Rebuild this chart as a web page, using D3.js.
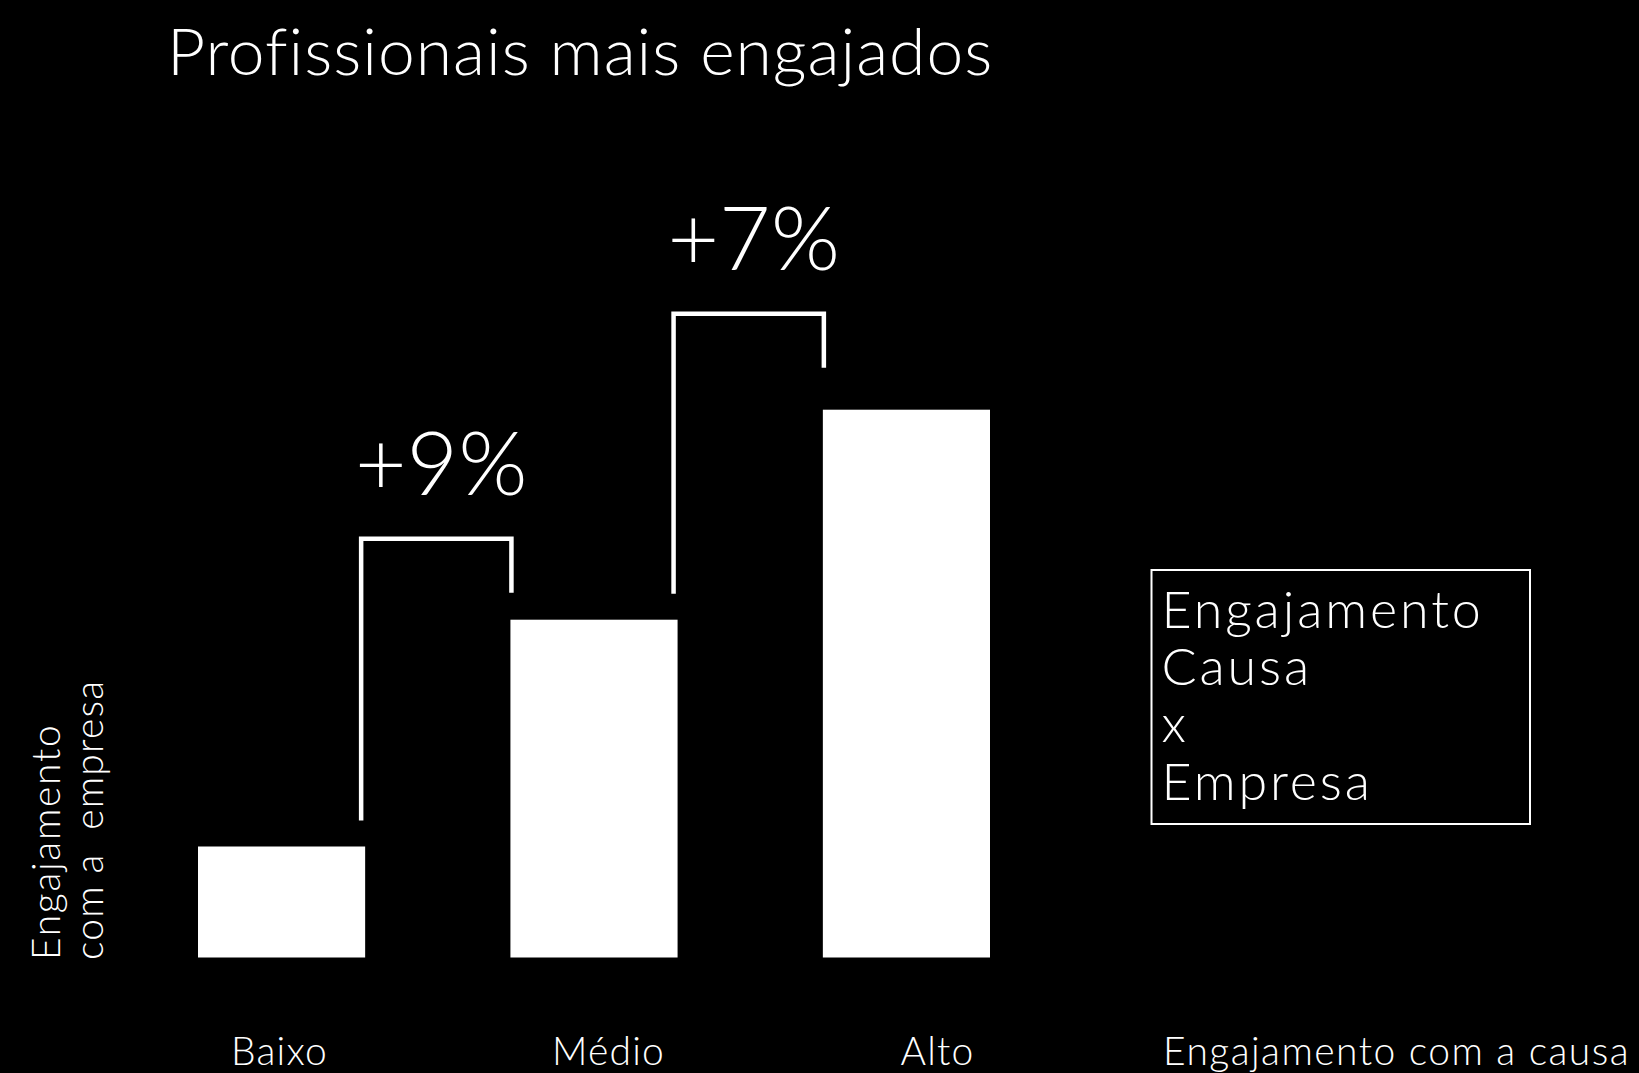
<!DOCTYPE html>
<html>
<head>
<meta charset="utf-8">
<script src="https://cdn.jsdelivr.net/npm/d3@7"></script>
<style>
  html, body { margin: 0; padding: 0; background: #000; }
  svg { display: block; }
  text { font-family: Lato, "Open Sans", sans-serif; font-weight: 300; fill: #fff; font-variant-ligatures: none; }
</style>
</head>
<body>
<svg id="chart" width="1639" height="1073"></svg>
<script>
// Chart content
const chartTitle = "Profissionais mais engajados";
const categories = ["Baixo", "Médio", "Alto"];
const values = [18.5, 56.3, 91.3];           // engagement with the company (relative)
const increaseLabels = ["+9%", "+7%"];       // step between neighbouring groups
const xAxisTitle = "Engajamento com a causa";
const yAxisTitle = ["Engajamento", "com a\u00a0 empresa"];
const legendLines = ["Engajamento", "Causa", "x", "Empresa"];

const W = 1639, H = 1073;
const svg = d3.select("#chart");
svg.append("rect").attr("width", W).attr("height", H).attr("fill", "#000");

// Scales
const x = d3.scaleBand().domain(categories).range([198, 990]).paddingInner(0.465).paddingOuter(0);
const y = d3.scaleLinear().domain([0, 100]).range([957.5, 357.5]);
const xLabel = d3.scalePoint().domain(categories).range([279, 937]);

// Title
svg.append("text")
  .attr("x", 167).attr("y", 75)
  .attr("font-size", 66)
  .attr("letter-spacing", 0.98)
  .text(chartTitle);

// Bars
svg.append("g").selectAll("rect")
  .data(categories.map((c, i) => ({ c, v: values[i] })))
  .join("rect")
  .attr("x", d => x(d.c))
  .attr("y", d => y(d.v))
  .attr("width", x.bandwidth())
  .attr("height", d => y(0) - y(d.v))
  .attr("fill", "#fff");

// Brackets showing the increase between neighbouring bars
const bracketRise = [81, 96];
const rightLeg = 54;
const brackets = svg.append("g");
increaseLabels.forEach((lab, i) => {
  const c0 = categories[i], c1 = categories[i + 1];
  const xl = x(c0) + x.bandwidth() - 4;
  const xr = x(c1) + 1;
  const top = y(values[i + 1]) - bracketRise[i];
  const leftBottom = y(values[i]) - 26;
  const rightBottom = top + rightLeg;
  brackets.append("path")
    .attr("d", d3.line()([[xl, leftBottom], [xl, top], [xr, top], [xr, rightBottom]]))
    .attr("fill", "none")
    .attr("stroke", "#fff")
    .attr("stroke-width", 4.5)
    .attr("stroke-linejoin", "miter");
  brackets.append("text")
    .attr("x", (xl + xr) / 2 + 5)
    .attr("y", top - 44)
    .attr("text-anchor", "middle")
    .attr("font-size", 89)
    .text(lab);
});

// Category labels
const xAxis = d3.axisBottom(xLabel).tickSize(0).tickPadding(0);
const gx = svg.append("g").attr("transform", "translate(0,1065)").call(xAxis);
gx.select(".domain").remove();
gx.selectAll("text")
  .attr("dy", 0).attr("y", 0)
  .attr("fill", "#fff")
  .attr("letter-spacing", 1.2)
  .style("font-family", "Lato, 'Open Sans', sans-serif")
  .style("font-weight", 300)
  .style("font-size", "39px");

// Axis titles
svg.append("text")
  .attr("x", 1163).attr("y", 1065)
  .attr("font-size", 39)
  .attr("letter-spacing", 1.45)
  .text(xAxisTitle);

const yt = svg.append("g");
yAxisTitle.forEach((line, i) => {
  yt.append("text")
    .attr("transform", `translate(${60 + i * 43.3},960) rotate(-90)`)
    .attr("font-size", 39)
    .attr("letter-spacing", i === 0 ? 1.7 : 1.2)
    .text(line);
});

// Legend box
svg.append("rect")
  .attr("x", 1151.5).attr("y", 570)
  .attr("width", 378.5).attr("height", 254)
  .attr("fill", "none")
  .attr("stroke", "#fff")
  .attr("stroke-width", 2);
svg.append("g").selectAll("text")
  .data(legendLines)
  .join("text")
  .attr("x", 1161.5)
  .attr("y", (d, i) => 628 + i * 57.2)
  .attr("font-size", 52)
  .attr("letter-spacing", 2.9)
  .text(d => d);
</script>
</body>
</html>
